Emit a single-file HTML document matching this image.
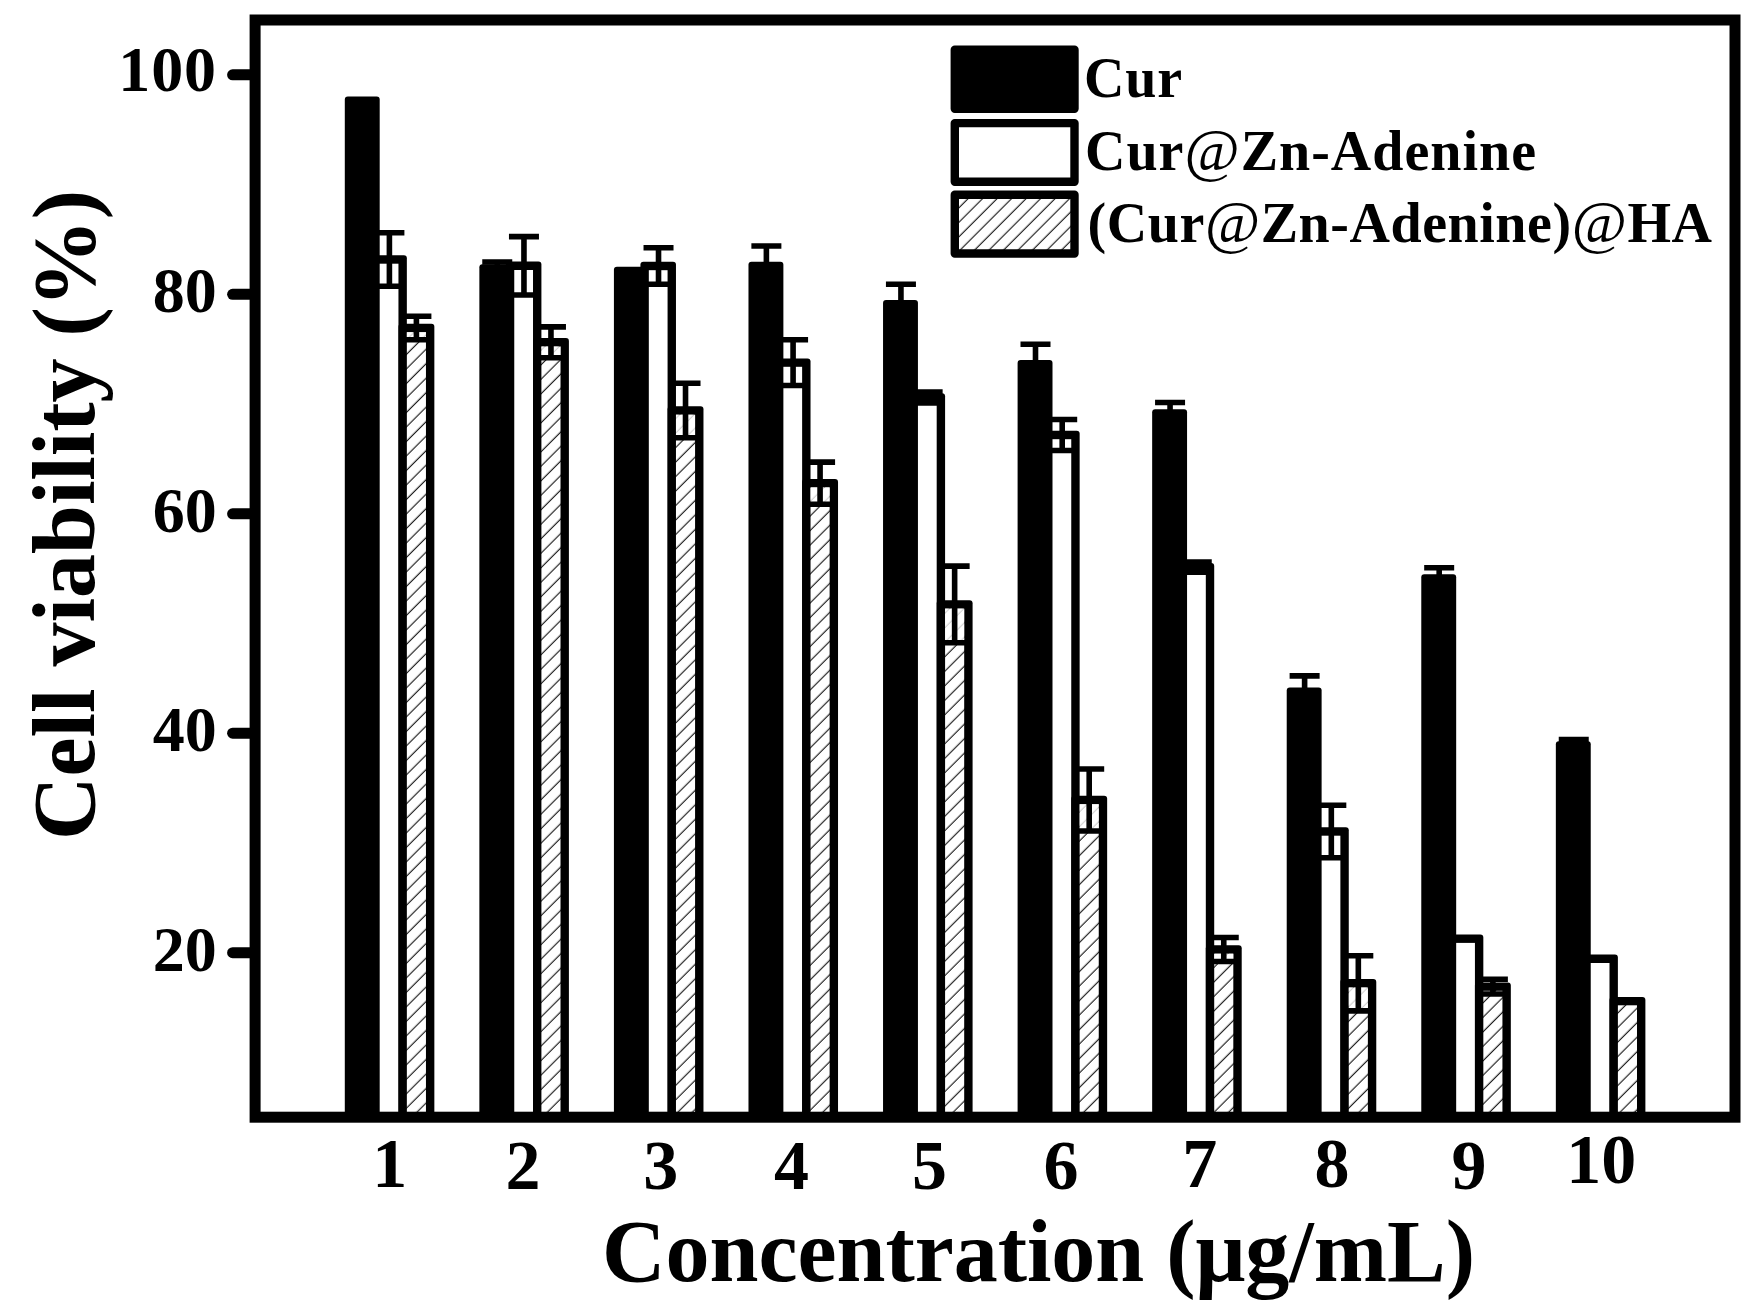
<!DOCTYPE html>
<html lang="en"><head><meta charset="utf-8"><title>Cell viability</title>
<style>html,body{margin:0;padding:0;background:#fff}svg{display:block}text{font-family:"Liberation Serif","Times New Roman",serif;font-weight:bold;fill:#000}.at{font-weight:normal;font-size:60px}</style></head><body>
<svg width="1754" height="1315" viewBox="0 0 1754 1315">
<defs><pattern id="h" patternUnits="userSpaceOnUse" width="10.25" height="10.25" patternTransform="rotate(45)"><rect width="10.25" height="10.25" fill="#fff"/><line x1="5" y1="-1" x2="5" y2="12" stroke="#222" stroke-width="1.2"/></pattern></defs>
<rect width="1754" height="1315" fill="#fff"/>
<rect x="344.8" y="96.6" width="34.9" height="1024.8" rx="3.0" fill="#000"/>
<rect x="371.3" y="255.3" width="35.55" height="866.1" rx="3.0" fill="#000"/>
<rect x="379.7" y="263.7" width="18.75" height="853.5" fill="#fff"/>
<rect x="398.45" y="323.8" width="35.9" height="797.6" rx="3.0" fill="#000"/>
<rect x="406.85" y="332.2" width="19.1" height="785" fill="url(#h)"/>
<rect x="479.36" y="264.2" width="34.9" height="857.2" rx="3.0" fill="#000"/>
<rect x="505.86" y="261.6" width="35.55" height="859.8" rx="3.0" fill="#000"/>
<rect x="514.26" y="270" width="18.75" height="847.2" fill="#fff"/>
<rect x="533.01" y="338.1" width="35.9" height="783.3" rx="3.0" fill="#000"/>
<rect x="541.41" y="346.5" width="19.1" height="770.7" fill="url(#h)"/>
<rect x="613.92" y="266.7" width="34.9" height="854.7" rx="3.0" fill="#000"/>
<rect x="640.42" y="261.8" width="35.55" height="859.6" rx="3.0" fill="#000"/>
<rect x="648.82" y="270.2" width="18.75" height="847" fill="#fff"/>
<rect x="667.57" y="406.3" width="35.9" height="715.1" rx="3.0" fill="#000"/>
<rect x="675.97" y="414.7" width="19.1" height="702.5" fill="url(#h)"/>
<rect x="748.48" y="261.7" width="34.9" height="859.7" rx="3.0" fill="#000"/>
<rect x="774.98" y="358.4" width="35.55" height="763" rx="3.0" fill="#000"/>
<rect x="783.38" y="366.8" width="18.75" height="750.4" fill="#fff"/>
<rect x="802.13" y="479" width="35.9" height="642.4" rx="3.0" fill="#000"/>
<rect x="810.53" y="487.4" width="19.1" height="629.8" fill="url(#h)"/>
<rect x="883.04" y="300" width="34.9" height="821.4" rx="3.0" fill="#000"/>
<rect x="909.54" y="393.3" width="35.55" height="728.1" rx="3.0" fill="#000"/>
<rect x="917.94" y="401.7" width="18.75" height="715.5" fill="#fff"/>
<rect x="936.69" y="600.2" width="35.9" height="521.2" rx="3.0" fill="#000"/>
<rect x="945.09" y="608.6" width="19.1" height="508.6" fill="url(#h)"/>
<rect x="1017.6" y="360" width="34.9" height="761.4" rx="3.0" fill="#000"/>
<rect x="1044.1" y="430.8" width="35.55" height="690.6" rx="3.0" fill="#000"/>
<rect x="1052.5" y="439.2" width="18.75" height="678" fill="#fff"/>
<rect x="1071.25" y="795.8" width="35.9" height="325.6" rx="3.0" fill="#000"/>
<rect x="1079.65" y="804.2" width="19.1" height="313" fill="url(#h)"/>
<rect x="1152.16" y="409.2" width="34.9" height="712.2" rx="3.0" fill="#000"/>
<rect x="1178.66" y="562.9" width="35.55" height="558.5" rx="3.0" fill="#000"/>
<rect x="1187.06" y="571.3" width="18.75" height="545.9" fill="#fff"/>
<rect x="1205.81" y="945.3" width="35.9" height="176.1" rx="3.0" fill="#000"/>
<rect x="1214.21" y="953.7" width="19.1" height="163.5" fill="url(#h)"/>
<rect x="1286.72" y="687.4" width="34.9" height="434" rx="3.0" fill="#000"/>
<rect x="1313.22" y="827.3" width="35.55" height="294.1" rx="3.0" fill="#000"/>
<rect x="1321.62" y="835.7" width="18.75" height="281.5" fill="#fff"/>
<rect x="1340.37" y="979.1" width="35.9" height="142.3" rx="3.0" fill="#000"/>
<rect x="1348.77" y="987.5" width="19.1" height="129.7" fill="url(#h)"/>
<rect x="1421.28" y="574.2" width="34.9" height="547.2" rx="3.0" fill="#000"/>
<rect x="1447.78" y="934.5" width="35.55" height="186.9" rx="3.0" fill="#000"/>
<rect x="1456.18" y="942.9" width="18.75" height="174.3" fill="#fff"/>
<rect x="1474.93" y="982.4" width="35.9" height="139" rx="3.0" fill="#000"/>
<rect x="1483.33" y="990.8" width="19.1" height="126.4" fill="url(#h)"/>
<rect x="1555.84" y="741.3" width="34.9" height="380.1" rx="3.0" fill="#000"/>
<rect x="1582.34" y="954.6" width="35.55" height="166.8" rx="3.0" fill="#000"/>
<rect x="1590.74" y="963" width="18.75" height="154.2" fill="#fff"/>
<rect x="1609.49" y="996.9" width="35.9" height="124.5" rx="3.0" fill="#000"/>
<rect x="1617.89" y="1005.3" width="19.1" height="111.9" fill="url(#h)"/>
<g fill="#fff" fill-opacity="0.8">
<rect x="406.85" y="332.2" width="19.1" height="7.6"/>
<rect x="541.41" y="346.5" width="19.1" height="11.2"/>
<rect x="675.97" y="414.7" width="19.1" height="23"/>
<rect x="810.53" y="487.4" width="19.1" height="16.9"/>
<rect x="945.09" y="608.6" width="19.1" height="34.1"/>
<rect x="1079.65" y="804.2" width="19.1" height="26.8"/>
<rect x="1214.21" y="953.7" width="19.1" height="7.8"/>
<rect x="1348.77" y="987.5" width="19.1" height="23.4"/>
</g>
<g stroke="#000" stroke-width="5.6" stroke-linecap="butt" fill="none">
<path d="M389.4 232.8V286.2M374.4 232.8H404.4M374.4 286.2H404.4"/>
<path d="M416.4 316.2V339.8M401.4 316.2H431.4M401.4 339.8H431.4"/>
<path d="M497.26 262V274.8M482.26 262H512.26M482.26 274.8H512.26"/>
<path d="M523.96 236.6V295M508.96 236.6H538.96M508.96 295H538.96"/>
<path d="M550.96 326.9V357.7M535.96 326.9H565.96M535.96 357.7H565.96"/>
<path d="M658.52 247.7V284.3M643.52 247.7H673.52M643.52 284.3H673.52"/>
<path d="M685.52 383.3V437.7M670.52 383.3H700.52M670.52 437.7H700.52"/>
<path d="M766.38 246V285.8M751.38 246H781.38M751.38 285.8H781.38"/>
<path d="M793.08 339.7V385.5M778.08 339.7H808.08M778.08 385.5H808.08"/>
<path d="M820.08 462.1V504.3M805.08 462.1H835.08M805.08 504.3H835.08"/>
<path d="M900.94 284.2V324.2M885.94 284.2H915.94M885.94 324.2H915.94"/>
<path d="M927.64 392V403M912.64 392H942.64M912.64 403H942.64"/>
<path d="M954.64 566.1V642.7M939.64 566.1H969.64M939.64 642.7H969.64"/>
<path d="M1035.5 344.2V384.2M1020.5 344.2H1050.5M1020.5 384.2H1050.5"/>
<path d="M1062.2 419.5V450.5M1047.2 419.5H1077.2M1047.2 450.5H1077.2"/>
<path d="M1089.2 769V831M1074.2 769H1104.2M1074.2 831H1104.2"/>
<path d="M1170.06 402.5V424.3M1155.06 402.5H1185.06M1155.06 424.3H1185.06"/>
<path d="M1196.76 562V572.2M1181.76 562H1211.76M1181.76 572.2H1211.76"/>
<path d="M1223.76 937.5V961.5M1208.76 937.5H1238.76M1208.76 961.5H1238.76"/>
<path d="M1304.62 675.9V707.3M1289.62 675.9H1319.62M1289.62 707.3H1319.62"/>
<path d="M1331.32 805.3V857.7M1316.32 805.3H1346.32M1316.32 857.7H1346.32"/>
<path d="M1358.32 955.7V1010.9M1343.32 955.7H1373.32M1343.32 1010.9H1373.32"/>
<path d="M1439.18 567.7V589.1M1424.18 567.7H1454.18M1424.18 589.1H1454.18"/>
<path d="M1492.88 979.2V994M1477.88 979.2H1507.88M1477.88 994H1507.88"/>
<path d="M1573.74 739.5V751.5M1558.74 739.5H1588.74M1558.74 751.5H1588.74"/>
</g>
<rect x="255.1" y="20.0" width="1479.9" height="1097.2" fill="none" stroke="#000" stroke-width="11.0" stroke-linejoin="miter"/>
<g stroke="#000" stroke-width="11.0" stroke-linecap="round">
<line x1="232.6" y1="74.8" x2="250" y2="74.8"/>
<line x1="232.6" y1="294.3" x2="250" y2="294.3"/>
<line x1="232.6" y1="513.8" x2="250" y2="513.8"/>
<line x1="232.6" y1="733.2" x2="250" y2="733.2"/>
<line x1="232.6" y1="952.7" x2="250" y2="952.7"/>
</g>
<g font-size="64" text-anchor="end">
<text x="217" y="91.3" letter-spacing="0.9">100</text>
<text x="216.8" y="312.1">80</text>
<text x="216.8" y="531.6">60</text>
<text x="216.8" y="751">40</text>
<text x="216.8" y="970.5">20</text>
</g>
<g font-size="70" text-anchor="middle">
<text x="389.8" y="1187.4">1</text>
<text x="522.9" y="1189">2</text>
<text x="660.8" y="1188.6">3</text>
<text x="791.6" y="1189.4">4</text>
<text x="929.5" y="1188.6">5</text>
<text x="1061.1" y="1188.8">6</text>
<text x="1199.7" y="1187.4">7</text>
<text x="1331.9" y="1187">8</text>
<text x="1469" y="1188.8">9</text>
<text x="1601.3" y="1183.4">10</text>
</g>
<text x="602" y="1280.8" font-size="88" textLength="873" lengthAdjust="spacing">Concentration (μg/mL)</text>
<text transform="translate(93.5 840) rotate(-90)" font-size="88">Cell viability (%)</text>
<g stroke="#000" stroke-width="8.4" stroke-linejoin="round">
<rect x="954.8" y="49.7" width="119.7" height="59.1" fill="#000"/>
<rect x="954.8" y="123.1" width="119.7" height="58.7" fill="#fff"/>
<rect x="954.8" y="194.8" width="119.7" height="58.7" fill="url(#h)"/>
</g>
<g font-size="56">
<text x="1084" y="97.2" textLength="98" lengthAdjust="spacing">Cur</text>
<text x="1085" y="169.8" textLength="451" lengthAdjust="spacing">Cur<tspan class="at">@</tspan>Zn-Adenine</text>
<text x="1087.6" y="242.1" textLength="624.4" lengthAdjust="spacing">(Cur<tspan class="at">@</tspan>Zn-Adenine)<tspan class="at">@</tspan>HA</text>
</g>
</svg></body></html>
